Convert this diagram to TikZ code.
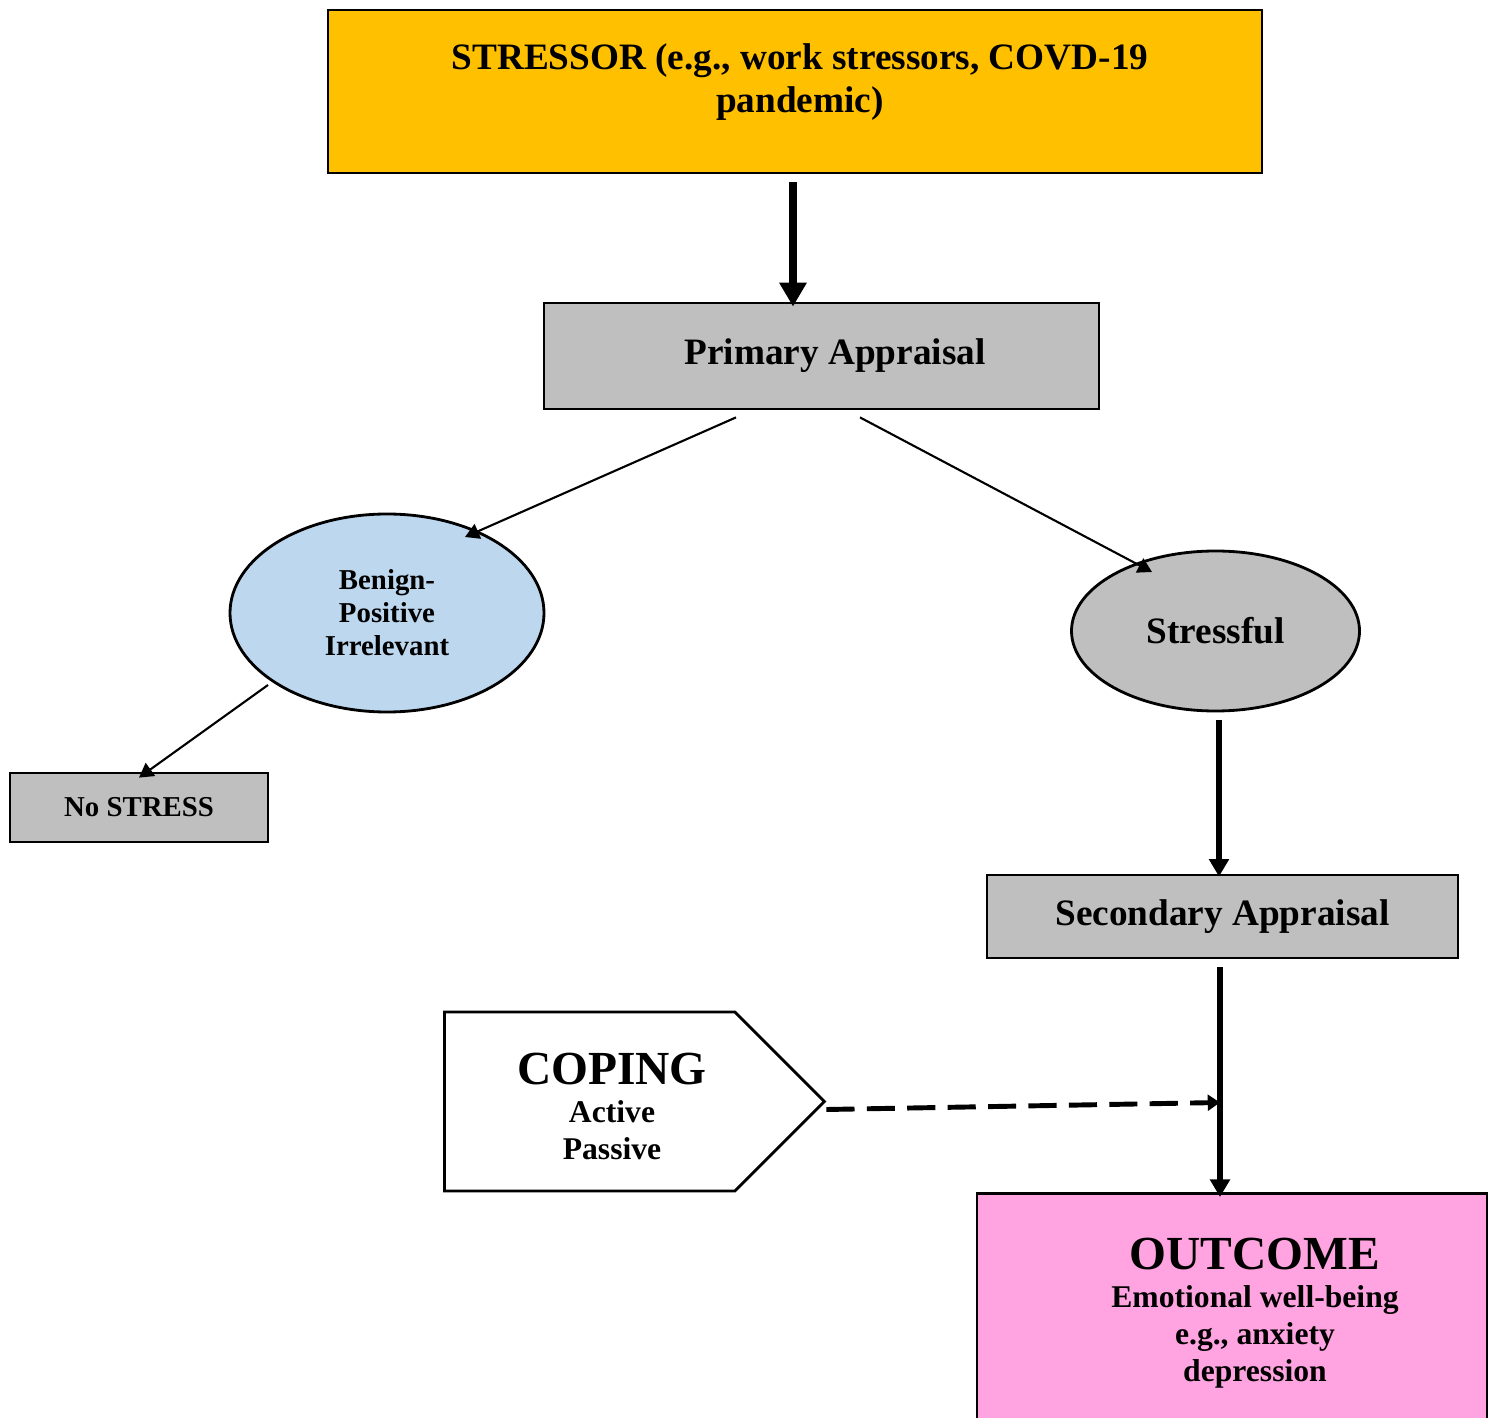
\documentclass[tikz,border=0pt]{standalone}
\usepackage{fontspec}
\setmainfont{Liberation Serif}
\usepackage{tikz}
\usetikzlibrary{
  arrows.meta,
  positioning,
  shapes.geometric,
  shapes.symbols,
  calc
}
\definecolor{stressgold}{RGB}{255,192,0}
\definecolor{appgray}{RGB}{191,191,191}
\definecolor{benignblue}{RGB}{189,215,238}
\definecolor{outpink}{RGB}{255,164,224}
\newcommand{\mainsize}{\fontsize{10.6}{12.2}\selectfont}
\newcommand{\smallsize}{\fontsize{8.2}{9.4}\selectfont}
\newcommand{\headsize}{\fontsize{13.5}{15}\selectfont}
\newcommand{\subsize}{\fontsize{9}{10.6}\selectfont}

\begin{document}
\begin{tikzpicture}[
    every node/.style={font=\bfseries},
    boxnode/.style={draw=black, line width=0.8pt, inner sep=2pt},
    ovalnode/.style={ellipse, draw=black, line width=0.8pt, inner sep=0pt, align=center},
    thinarrow/.style={line width=0.6pt, -{Triangle[length=4pt, width=4.5pt]}},
    thickarrow/.style={line width=1.6pt, -{Triangle[length=5pt, width=5.5pt]}}
]
            \useasboundingbox (0,0) rectangle (14.95,-14.18);
            \clip (0,0) rectangle (14.95,-14.18);

            % Stressor box on top, text set a bit above its middle
            \node[boxnode, fill=stressgold, minimum width=9.34cm, minimum height=1.63cm] (stressor) at (7.95,-0.915) {};
            \node[font=\bfseries\mainsize, align=center] (stressortext) at (8.0,-0.82) {
                STRESSOR (e.g., work stressors, COVD-19\\
                pandemic)
            };

            % Appraisal boxes
            \node[boxnode, fill=appgray, minimum width=5.55cm, minimum height=1.06cm, font=\bfseries\mainsize] (primary) at (8.215,-3.56) {\hspace*{0.27cm}Primary Appraisal};
            \node[boxnode, fill=appgray, minimum width=4.71cm, minimum height=0.83cm, font=\bfseries\mainsize] (secondary) at (12.225,-9.165) {Secondary Appraisal};

            % The two appraisal results
            \node[ovalnode, fill=benignblue, minimum width=3.14cm, minimum height=1.98cm, font=\bfseries\smallsize] (benign) at (3.87,-6.13) {
                Benign-\\
                Positive\\
                Irrelevant
            };
            \node[ovalnode, fill=appgray, minimum width=2.88cm, minimum height=1.6cm, font=\bfseries\mainsize] (stressful) at (12.155,-6.31) {Stressful};
            \node[boxnode, fill=appgray, minimum width=2.58cm, minimum height=0.69cm, font=\bfseries\smallsize] (nostress) at (1.39,-8.075) {No STRESS};

            % Coping pointer and its text
            \node[boxnode, signal, signal to=east, signal from=nowhere, fill=white, minimum width=3.8cm, minimum height=1.79cm, anchor=west] (coping) at (4.43,-11.015) {};
            \node[align=center, font=\bfseries\subsize] (copingtext) at (6.12,-11.065) {
                {\headsize COPING}\\
                Active\\
                Passive
            };

            % Outcome box (runs off the bottom edge)
            \node[boxnode, fill=outpink, minimum width=5.10cm, minimum height=2.30cm, anchor=north] (outcome) at (12.32,-11.92) {};
            \node[align=center, font=\bfseries\subsize] (outcometext) at (12.55,-13.13) {
                {\headsize OUTCOME}\\[0.2pt]
                Emotional well-being\\
                e.g., anxiety\\
                depression
            };

            % Arrows
            \draw[thickarrow, line width=2.2pt, -{Triangle[length=6.8pt, width=7.4pt]}] ([xshift=-0.02cm, yshift=-0.08cm]stressor.south) -- ([xshift=-0.02cm, yshift=-0.05cm]stressor.south |- primary.north);
            \draw[thinarrow] ($(primary.south)+(-0.855,-0.07)$) -- ($(benign.center)+(0.78,0.76)$);
            \draw[thinarrow] ($(primary.south)+(0.385,-0.07)$) -- ($(stressful.center)+(-0.635,0.59)$);
            \draw[thinarrow] ($(benign.center)+(-1.19,-0.72)$) -- ([yshift=-0.06cm]nostress.north);
            \draw[thickarrow] ([xshift=0.035cm, yshift=-0.08cm]stressful.south) -- ([xshift=0.035cm, yshift=-0.03cm]stressful.south |- secondary.north);
            \draw[thickarrow] ([xshift=-0.025cm, yshift=-0.08cm]secondary.south) -- ([xshift=-0.025cm, yshift=-0.05cm]secondary.south |- outcome.north);

            % Coping acts on the appraisal-outcome path
            \coordinate (join) at ($(secondary.south |- coping.east)+(-0.025,-0.01)$);
            \draw[line width=1.4pt, dash pattern=on 8pt off 3.5pt, -{Triangle[length=3.5pt, width=4.5pt]}] ([yshift=-0.08cm]coping.east) -- (join);
        \end{tikzpicture}
\end{document}
